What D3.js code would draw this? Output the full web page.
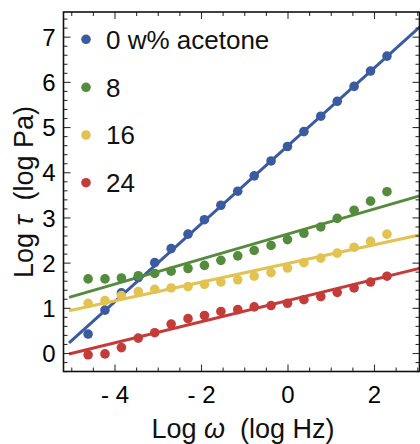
<!DOCTYPE html>
<html>
<head>
<meta charset="utf-8">
<script src="https://cdn.jsdelivr.net/npm/d3@7"></script>
<style>
  html, body { margin: 0; padding: 0; background: #fff; }
  svg { display: block; font-family: "Liberation Sans", Arial, sans-serif; }
</style>
</head>
<body>
<svg id="chart" width="420" height="444"></svg>
<script>
// ---- data ----
const logOmega = [-4.61, -4.22, -3.84, -3.45, -3.07, -2.69, -2.30, -1.92, -1.54, -1.15,
                  -0.77, -0.38, 0.00, 0.38, 0.77, 1.15, 1.54, 1.92, 2.30];
const seriesNames = ["0 w% acetone", "8", "16", "24"];
const tau0  = [0.42, 0.95, 1.33, 1.67, 2.00, 2.31, 2.63, 2.95, 3.27, 3.58,
               3.92, 4.25, 4.57, 4.90, 5.24, 5.57, 5.90, 6.24, 6.57];
const tau8  = [1.64, 1.64, 1.66, 1.71, 1.76, 1.81, 1.87, 1.94, 2.05, 2.15,
               2.27, 2.38, 2.51, 2.65, 2.79, 2.98, 3.16, 3.36, 3.57];
const tau16 = [1.10, 1.16, 1.27, 1.36, 1.41, 1.44, 1.47, 1.52, 1.57, 1.62,
               1.70, 1.78, 1.88, 2.00, 2.10, 2.21, 2.34, 2.47, 2.63];
const tau24 = [-0.04, -0.02, 0.12, 0.33, 0.45, 0.64, 0.76, 0.83, 0.92, 0.96,
               1.02, 1.05, 1.10, 1.18, 1.25, 1.34, 1.44, 1.57, 1.70];
// fitted lines: intercept and slope (log tau = a + b * log omega)
const fitIntercepts = [4.58, 2.63, 1.98, 1.16];
const fitSlopes     = [0.862, 0.277, 0.207, 0.234];
const fitRange = [-5.05, 3.2];
const xTickValues = [-4, -2, 0, 2];
const xTickLabels = ["- 4", "- 2", "0", "2"];
const yTickValues = [0, 1, 2, 3, 4, 5, 6, 7];
const yTickLabels = ["0", "1", "2", "3", "4", "5", "6", "7"];

const colors = ["#3b5ba0", "#548b3d", "#e2c352", "#c33c39"];
const allTau = [tau0, tau8, tau16, tau24];

// ---- layout ----
const svg = d3.select("#chart");
const L = 63.5, R = 419.5, T = 12, B = 371.5;
const x = d3.scaleLinear().domain([-5.179, 3.052]).range([L, R]);
const y = d3.scaleLinear().domain([-0.409, 7.546]).range([B, T]);

svg.append("defs").append("clipPath").attr("id", "clip")
  .append("rect").attr("x", L).attr("y", T).attr("width", R - L).attr("height", B - T);

// fitted lines
const plot = svg.append("g").attr("clip-path", "url(#clip)");
const lineGen = d3.line().x(d => x(d[0])).y(d => y(d[1]));
fitIntercepts.forEach((a, i) => {
  const b = fitSlopes[i];
  const pts = fitRange.map(v => [v, a + b * v]);
  plot.append("path").attr("d", lineGen(pts))
    .attr("fill", "none").attr("stroke", colors[i]).attr("stroke-width", 3);
});

// points
allTau.forEach((arr, i) => {
  plot.append("g").selectAll("circle").data(arr).join("circle")
    .attr("cx", (d, j) => x(logOmega[j]))
    .attr("cy", d => y(d))
    .attr("r", 4.8)
    .attr("fill", colors[i]);
});

// frame axes with inward ticks
const xMinor = d3.range(-5, 3.01, 0.5).filter(v => !xTickValues.includes(v));
const yMinor = d3.range(-0.4, 7.55, 0.2).map(v => Math.round(v * 10) / 10)
  .filter(v => !yTickValues.includes(v));

function axisG(axis, tx, ty) {
  const g = svg.append("g").attr("transform", `translate(${tx},${ty})`).call(axis);
  g.select(".domain").remove();
  g.selectAll("line").attr("stroke", "#333").attr("stroke-width", 1.1);
  return g;
}
// bottom
axisG(d3.axisBottom(x).tickValues(xTickValues).tickSize(-7).tickFormat((d, i) => xTickLabels[i]), 0, B)
  .selectAll("text").attr("dy", 0).attr("y", 31).attr("font-size", 24).attr("fill", "#000");
axisG(d3.axisBottom(x).tickValues(xMinor).tickSize(-4).tickFormat(""), 0, B);
// top
axisG(d3.axisTop(x).tickValues(xTickValues).tickSize(-7).tickFormat(""), 0, T);
axisG(d3.axisTop(x).tickValues(xMinor).tickSize(-4).tickFormat(""), 0, T);
// left
axisG(d3.axisLeft(y).tickValues(yTickValues).tickSize(-7).tickFormat((d, i) => yTickLabels[i]), L, 0)
  .selectAll("text").attr("x", -8).attr("dy", "0.36em").attr("font-size", 24).attr("fill", "#000");
axisG(d3.axisLeft(y).tickValues(yMinor).tickSize(-4).tickFormat(""), L, 0);
// right
axisG(d3.axisRight(y).tickValues(yTickValues).tickSize(-7).tickFormat(""), R, 0);
axisG(d3.axisRight(y).tickValues(yMinor).tickSize(-4).tickFormat(""), R, 0);

svg.append("rect").attr("x", L).attr("y", T).attr("width", R - L).attr("height", B - T)
  .attr("fill", "none").attr("stroke", "#111").attr("stroke-width", 1.6);

// axis titles
const xt = svg.append("text").attr("x", 243).attr("y", 438).attr("text-anchor", "middle")
  .attr("font-size", 27).attr("fill", "#111");
xt.append("tspan").text("Log ");
xt.append("tspan").attr("font-style", "italic").text("ω");
xt.append("tspan").text("\u00a0 (log Hz)");

const yt = svg.append("text").attr("transform", "translate(33,192) rotate(-90)")
  .attr("text-anchor", "middle").attr("font-size", 27).attr("fill", "#111");
yt.append("tspan").text("Log ");
yt.append("tspan").attr("font-style", "italic").text("τ");
yt.append("tspan").text("\u00a0 (log Pa)");

// legend
const legendY = [39.3, 87.3, 135, 182.7];
seriesNames.forEach((name, i) => {
  svg.append("circle").attr("cx", 86).attr("cy", legendY[i]).attr("r", 4.8).attr("fill", colors[i]);
  svg.append("text").attr("x", 106).attr("y", legendY[i]).attr("dy", "0.36em")
    .attr("font-size", 26).attr("fill", "#111").text(name);
});
</script>
</body>
</html>
